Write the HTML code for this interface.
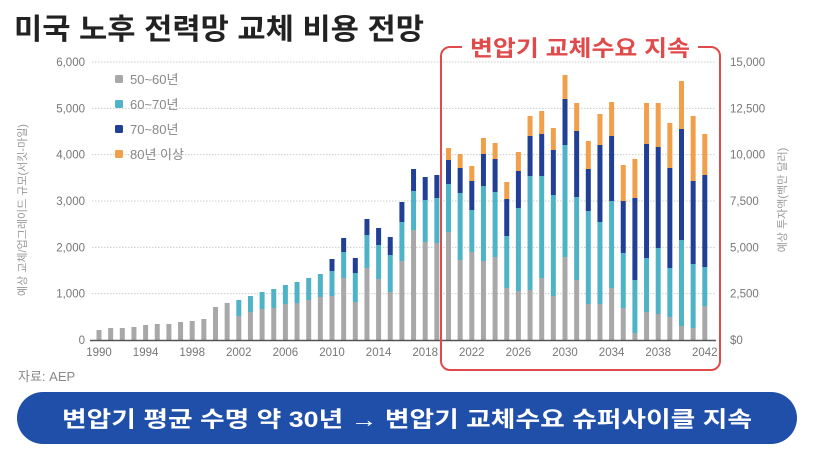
<!DOCTYPE html>
<html><head><meta charset="utf-8">
<style>
body{margin:0;background:#fff;width:813px;height:456px;overflow:hidden;font-family:"Liberation Sans","Noto Sans CJK KR",sans-serif;}
</style></head>
<body>
<svg id="s" width="813" height="456" xmlns="http://www.w3.org/2000/svg" style="position:absolute;left:0;top:0;font-family:'Liberation Sans','Noto Sans CJK KR',sans-serif">
<text x="14" y="39" font-size="29" font-weight="bold" fill="#222" textLength="410" lengthAdjust="spacingAndGlyphs">미국 노후 전력망 교체 비용 전망</text>
<g id="grid" stroke="#ccc" stroke-width="1" stroke-dasharray="1.5,1.5"></g>
<g id="bars"></g>
<line x1="90" y1="340.5" x2="716" y2="340.5" stroke="#555" stroke-width="1.5"/>
<g id="lab" font-size="11.5" fill="#777"></g>
<text transform="translate(26,210) rotate(-90)" font-size="11" fill="#999" text-anchor="middle">예상 교체/업그레이드 규모(서킷-마일)</text>
<text transform="translate(786,200) rotate(-90)" font-size="11" fill="#999" text-anchor="middle">예상 투자액(백만 달러)</text>
<g font-size="13" fill="#888">
<rect x="115" y="75" width="8" height="8" rx="1.5" fill="#a8a8a8"/><text x="130" y="84">50~60년</text>
<rect x="115" y="100" width="8" height="8" rx="1.5" fill="#4fb3c8"/><text x="130" y="109">60~70년</text>
<rect x="115" y="125" width="8" height="8" rx="1.5" fill="#213f94"/><text x="130" y="134">70~80년</text>
<rect x="115" y="150" width="8" height="8" rx="1.5" fill="#f0a04b"/><text x="130" y="159">80년 이상</text>
</g>
<rect x="441" y="47" width="279" height="323" rx="9" fill="none" stroke="#e04a4a" stroke-width="2"/>
<rect x="462" y="36" width="236" height="22" fill="#fff"/>
<text x="580" y="56" font-size="22" font-weight="bold" fill="#e04a4a" text-anchor="middle" textLength="220" lengthAdjust="spacingAndGlyphs">변압기 교체수요 지속</text>
<text x="18" y="381" font-size="13" fill="#888">자료: AEP</text>
<rect x="17" y="392" width="780" height="52" rx="26" fill="#1f4fa8"/>
<text x="407" y="427" font-size="22" font-weight="bold" fill="#fff" text-anchor="middle" textLength="690" lengthAdjust="spacingAndGlyphs">변압기 평균 수명 약 30년 → 변압기 교체수요 슈퍼사이클 지속</text>
</svg>
<script>
var ns="http://www.w3.org/2000/svg";
function el(t,a,p,txt){var e=document.createElementNS(ns,t);for(var k in a)e.setAttribute(k,a[k]);if(txt!=null)e.textContent=txt;document.getElementById(p).appendChild(e);}
var L=["0","1,000","2,000","3,000","4,000","5,000","6,000"],R=["$0","2,500","5,000","7,500","10,000","12,500","15,000"];
for(var i=0;i<7;i++){var y=340-i*46.33;
 if(i>0)el("line",{x1:92,x2:716,y1:y,y2:y},"grid");
 el("text",{x:85,y:y+4,"text-anchor":"end"},"lab",L[i]);
 el("text",{x:730,y:y+4},"lab",R[i]);}
var d=[[10],[12],[12],[13],[15],[16],[16],[18],[19],[21],[33],[37],[24,40],[28,44],[31,48],[32,51],[36,55],[37,58],[40,62],[43,66],
[44,69,81],[62,88,102],[38,67,82],[72,105,121],[61,95,112],[48,85,103],[79,118,138],[110,149,171],[98,140,163],[97,142,165],
[108,156,180,192],[80,147,172,186],[88,130,159,174],[79,154,186,202],[83,148,181,197],[52,104,141,158],[49,132,169,188],[50,164,204,224],[62,164,206,229],[44,145,190,212],
[83,195,241,265],[60,143,209,237],[36,129,171,199],[36,118,195,226],[52,139,204,238],[32,87,139,175],[7,60,142,181],[28,82,196,237],[26,92,193,237],[23,72,172,217],
[14,100,211,259],[12,76,159,224],[34,73,165,206]];
var c=["#a8a8a8","#4fb3c8","#213f94","#f0a04b"];
for(var j=0;j<d.length;j++){var x=99+j*11.65-2.5,prev=0;
 for(var k=0;k<d[j].length;k++){var h=d[j][k];el("rect",{x:x,y:340-h,width:5,height:h-prev,fill:c[k]},"bars");prev=h;}
 if(j%4==0)el("text",{x:99+j*11.65,y:356,"text-anchor":"middle"},"lab",String(1990+j));}
</script>
</body></html>
